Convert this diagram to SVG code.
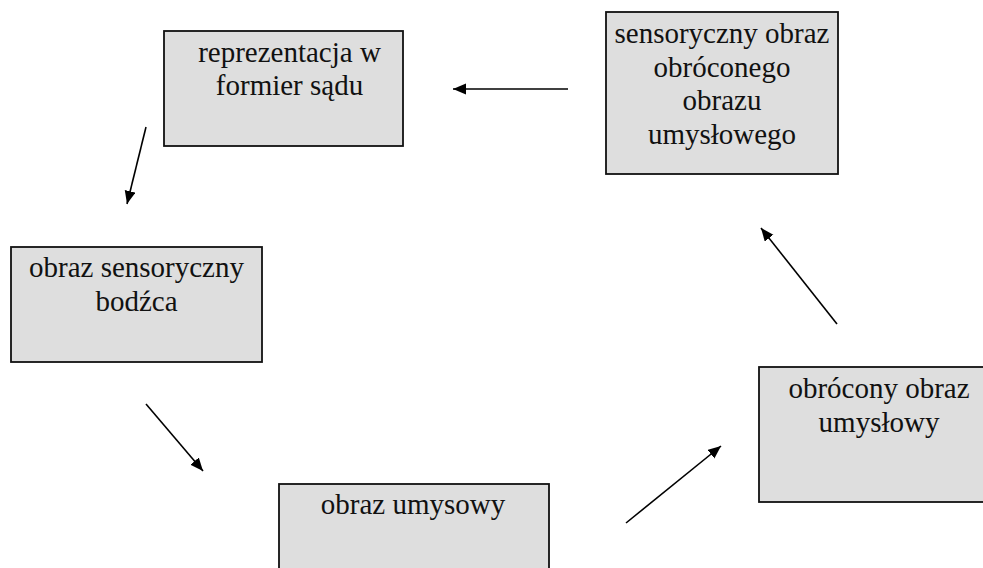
<svg xmlns="http://www.w3.org/2000/svg" width="983" height="568" viewBox="0 0 983 568">
  <style>
    .box { fill: #dedede; stroke: #111; stroke-width: 1.8; }
    .lbl { font-family: "Liberation Serif", "Times New Roman", serif; font-size: 29px; fill: #111; text-anchor: middle; }
    .arrow { stroke: #000; stroke-width: 1.6; fill: none; marker-end: url(#head); }
  </style>
  <defs>
    <marker id="head" markerUnits="userSpaceOnUse" markerWidth="14" markerHeight="12" refX="13" refY="5.5" orient="auto">
      <path d="M0,0 L13,5.5 L0,11 Z" fill="#000"/>
    </marker>
  </defs>
  <rect width="983" height="568" fill="#fff"/>

  <g id="node-reprezentacja">
    <rect class="box" x="164" y="31" width="239" height="115"/>
    <text class="lbl" x="289.5" y="62">reprezentacja w</text>
    <text class="lbl" x="289.5" y="95">formier sądu</text>
  </g>

  <g id="node-sensoryczny-obraz">
    <rect class="box" x="606" y="12" width="232" height="162"/>
    <text class="lbl" x="722" y="43">sensoryczny obraz</text>
    <text class="lbl" x="722" y="76.5">obróconego</text>
    <text class="lbl" x="722" y="110">obrazu</text>
    <text class="lbl" x="722" y="143.5">umysłowego</text>
  </g>

  <g id="node-obraz-sensoryczny">
    <rect class="box" x="11" y="247" width="251" height="115"/>
    <text class="lbl" x="136.5" y="277">obraz sensoryczny</text>
    <text class="lbl" x="136.5" y="311">bodźca</text>
  </g>

  <g id="node-obraz-umysowy">
    <rect class="box" x="279" y="484" width="270" height="100"/>
    <text class="lbl" x="413" y="514">obraz umysowy</text>
  </g>

  <g id="node-obrocony-obraz">
    <rect class="box" x="759" y="367" width="240" height="135"/>
    <text class="lbl" x="879" y="398">obrócony obraz</text>
    <text class="lbl" x="879" y="432">umysłowy</text>
  </g>

  <g id="connectors">
    <line class="arrow" x1="568" y1="89" x2="453" y2="89"/>
    <line class="arrow" x1="146" y1="127" x2="127" y2="204"/>
    <line class="arrow" x1="146" y1="404" x2="203" y2="471"/>
    <line class="arrow" x1="626" y1="523" x2="721" y2="446"/>
    <line class="arrow" x1="837" y1="324" x2="761" y2="228"/>
  </g>
</svg>
